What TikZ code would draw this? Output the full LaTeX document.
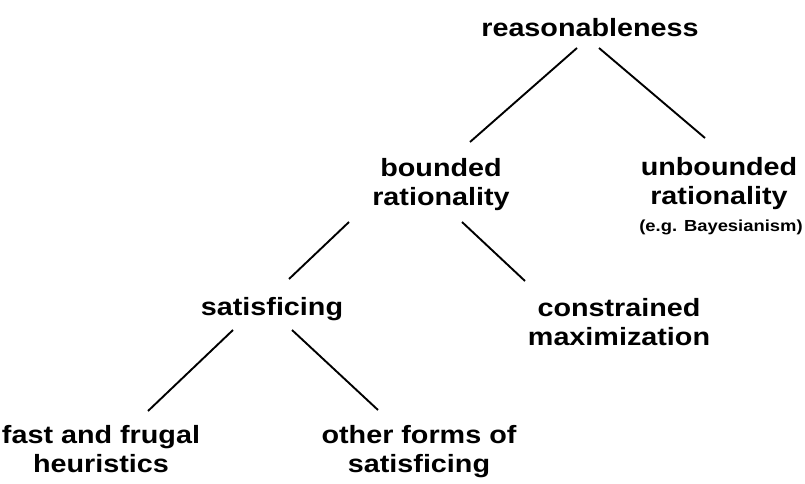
\documentclass[tikz,border=0pt]{standalone}
\usepackage{fontspec}
\newfontfamily\lab[FakeStretch=1.15]{Liberation Sans}
\begin{document}
\begin{tikzpicture}[x=1pt,y=-1pt,
  lbl/.style={anchor=base,align=center,inner sep=0pt,text=black,
    font=\lab\bfseries\fontsize{25}{28.5}\selectfont},
  small/.style={anchor=base,inner sep=0pt,text=black,
    font=\lab\bfseries\fontsize{16}{18}\selectfont},
  conn/.style={draw=black,line width=1.9pt}]
\useasboundingbox[fill=white] (0,0) rectangle (805,484);
% anchor=base of a two-line node is the baseline of its last line
\node[lbl] (reas) at (590,37) {reasonableness};
\node[lbl] (bnd) at (441,205) {bounded\\rationality};
\node[lbl] (unb) at (719,204) {unbounded\\rationality};
\node[small] (eg) at (721,231) {(e.g. Bayesianism)};
\node[lbl] (sat) at (272,315) {satisficing};
\node[lbl] (con) at (619,345) {constrained\\maximization};
\node[lbl] (ff) at (101,472) {fast and frugal\\heuristics};
\node[lbl] (oth) at (419,472) {other forms of\\satisficing};
% connector end points
\coordinate (reasL) at (577,48);
\coordinate (reasR) at (599,48);
\coordinate (bndT) at (470,142);
\coordinate (unbT) at (705,138);
\coordinate (bndL) at (349,222);
\coordinate (bndR) at (462,222);
\coordinate (satT) at (289,279);
\coordinate (conT) at (525,281);
\coordinate (satL) at (233,330);
\coordinate (satR) at (292,330);
\coordinate (ffT) at (148,411);
\coordinate (othT) at (378,410);
\draw[conn] (reasL) -- (bndT);
\draw[conn] (reasR) -- (unbT);
\draw[conn] (bndL) -- (satT);
\draw[conn] (bndR) -- (conT);
\draw[conn] (satL) -- (ffT);
\draw[conn] (satR) -- (othT);
\end{tikzpicture}
\end{document}
